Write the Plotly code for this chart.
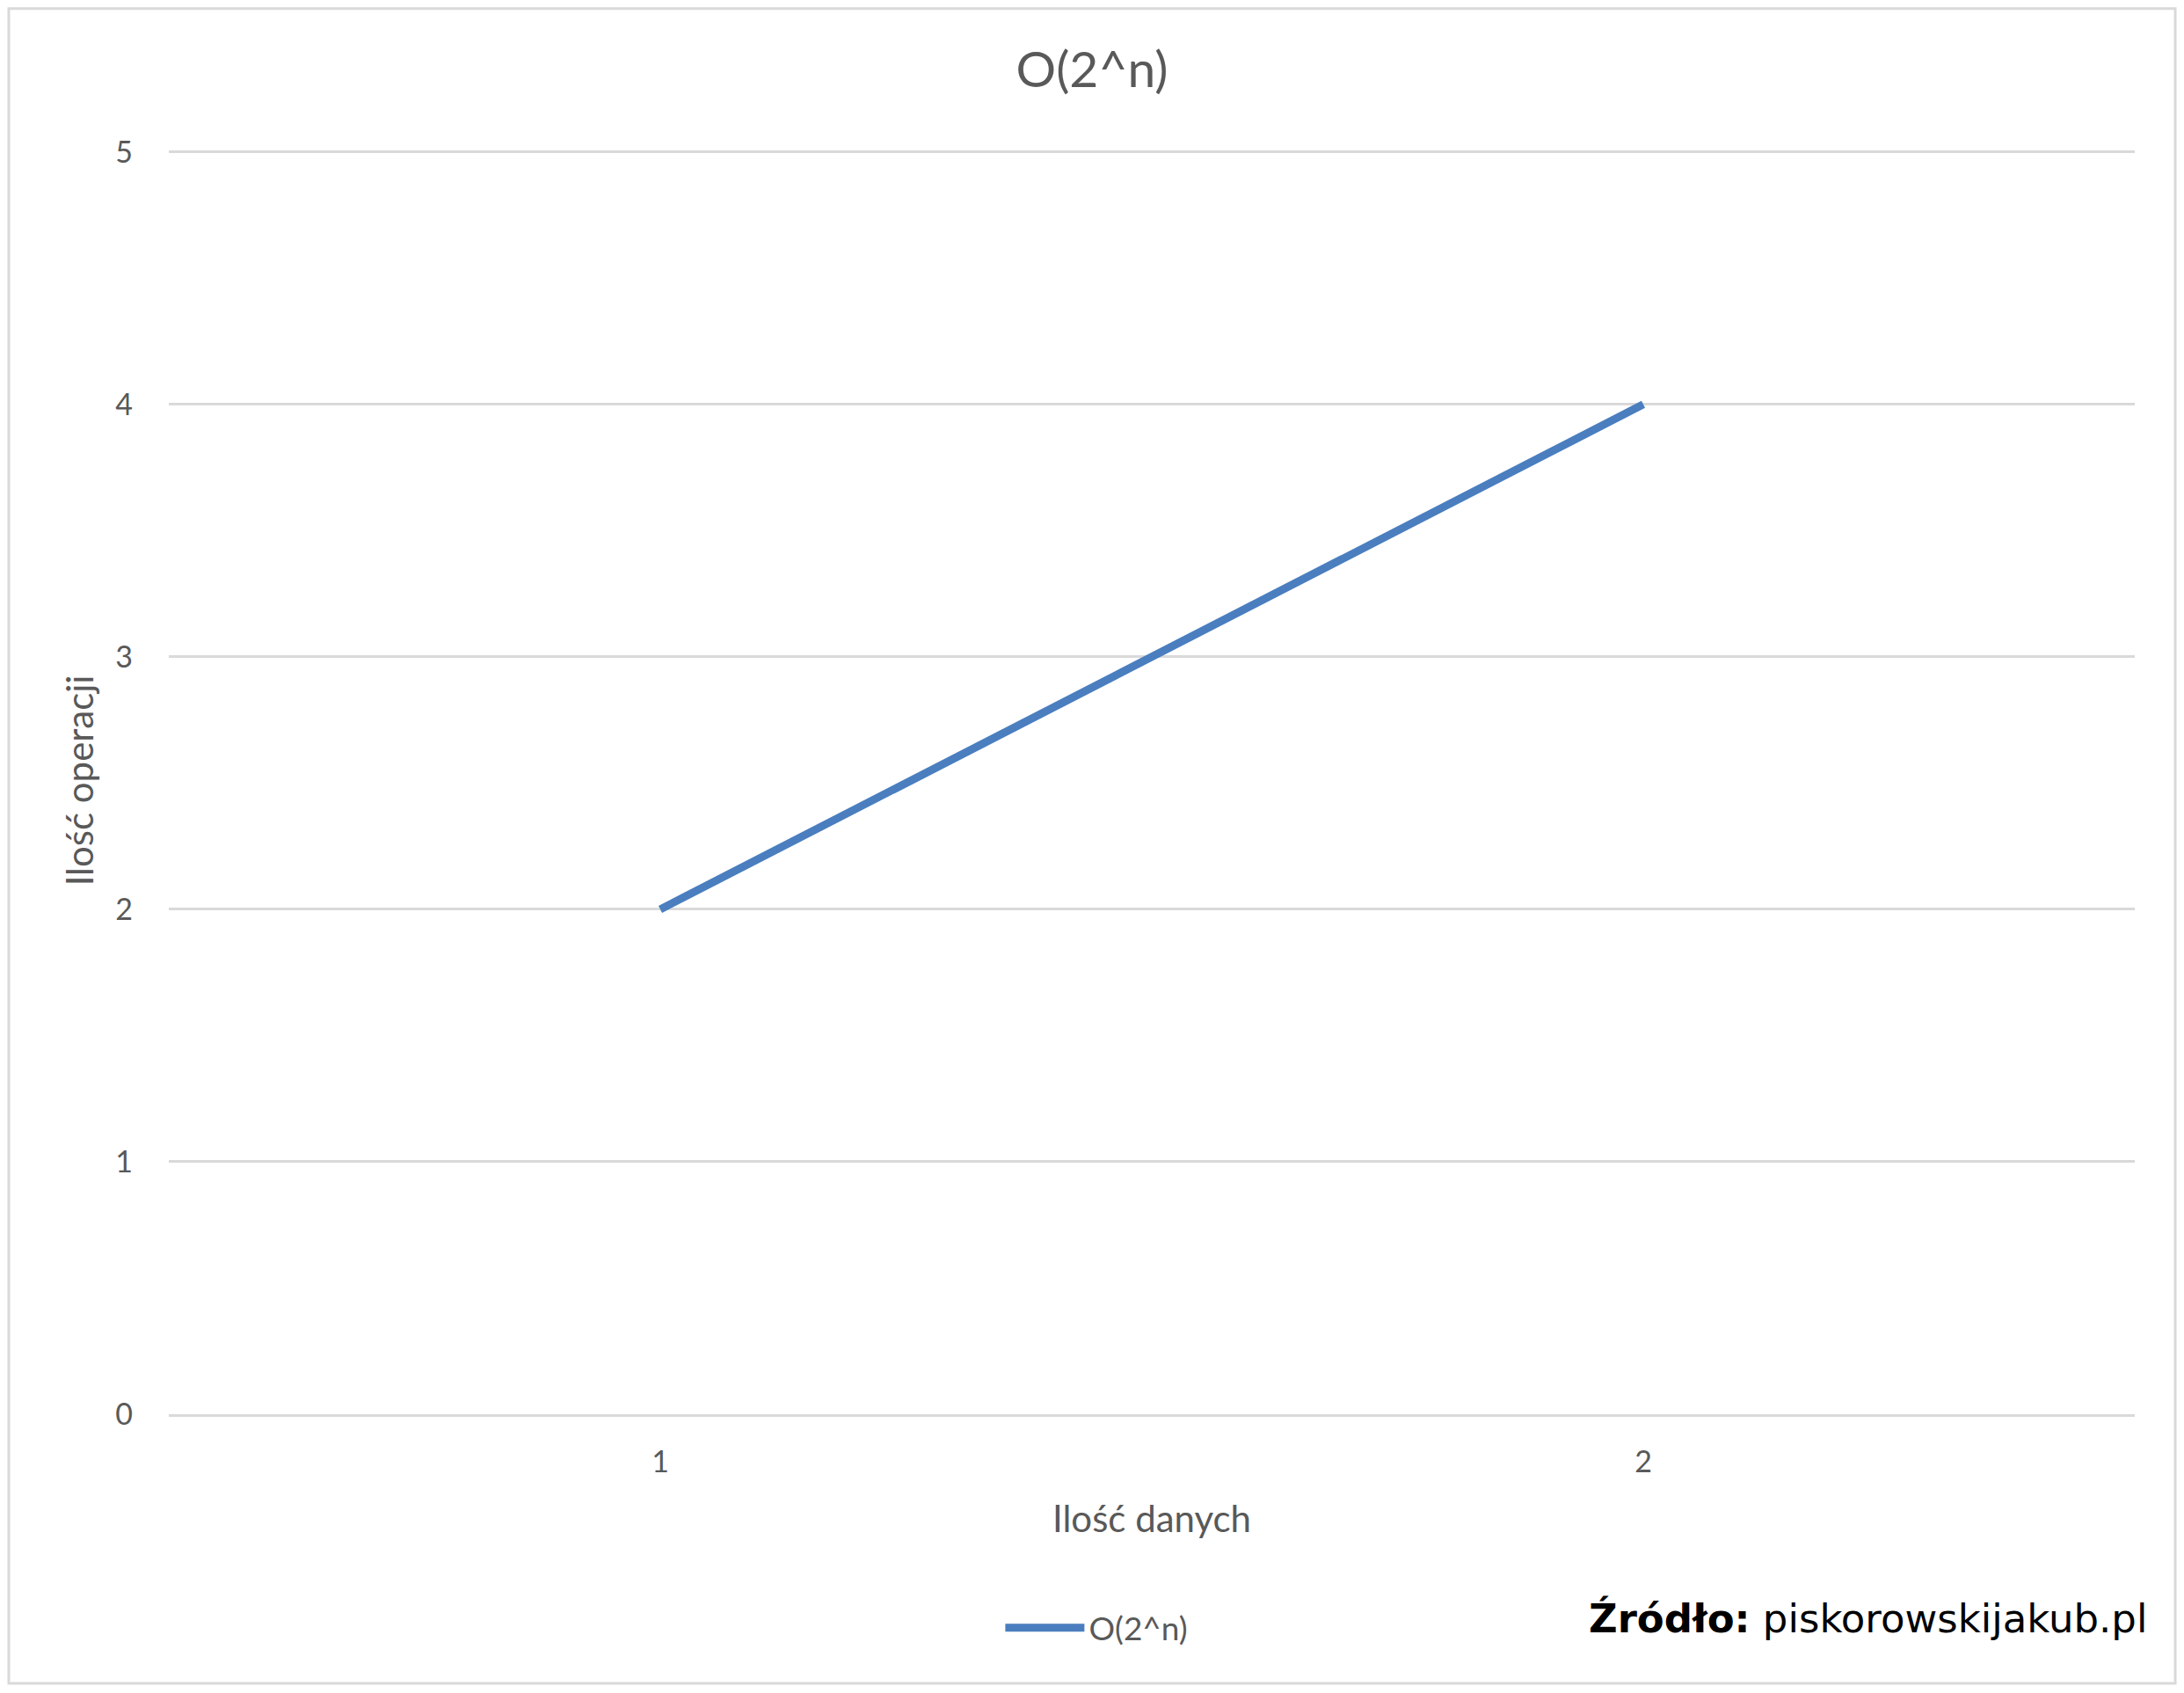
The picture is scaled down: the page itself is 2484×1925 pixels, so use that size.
import plotly.graph_objects as go

# data
ilosc_danych = ["1", "2"]
ilosc_operacji = [2, 4]
series_name = "O(2^n)"

text_grey = "#595959"
grid_grey = "#D9D9D9"
line_blue = "#4A7EBF"
font_family = "Lato, 'Open Sans', sans-serif"

fig = go.Figure()

fig.add_trace(go.Scatter(
    x=ilosc_danych,
    y=ilosc_operacji,
    mode="lines",
    name=series_name,
    line=dict(color=line_blue, width=9),
))

# light grey frame around the whole chart (paper coords relative to plot area)
fig.add_shape(
    type="rect", xref="paper", yref="paper",
    x0=-0.0814, x1=1.0206, y0=-0.2124, y1=1.1092,
    line=dict(color=grid_grey, width=3),
    fillcolor="rgba(0,0,0,0)",
    layer="below",
)

# source note bottom right
fig.add_annotation(
    text="<b>Źródło:</b> piskorowskijakub.pl",
    xref="paper", yref="paper",
    x=1.0072, y=-0.161,
    xanchor="right", yanchor="middle",
    showarrow=False,
    font=dict(family="DejaVu Sans", size=45, color="black"),
)

# page body has an 8px margin, so the figure is a bit smaller than the window
fig.update_layout(
    width=2468,
    height=1909,
    margin=dict(l=184, r=48, t=159, b=309),
    plot_bgcolor="white",
    paper_bgcolor="white",
    font=dict(family=font_family, color=text_grey, size=34),
    title=dict(
        text="O(2^n)",
        x=0.5, xanchor="center",
        y=1 - 71 / 1909, yanchor="middle", yref="container",
        font=dict(size=57, color=text_grey, family=font_family),
    ),
    showlegend=True,
    legend=dict(
        orientation="h",
        x=0.472, xanchor="center",
        y=-0.1687, yanchor="middle",
        itemwidth=90,
        font=dict(size=37, color=text_grey),
        bgcolor="rgba(0,0,0,0)",
    ),
)

fig.update_xaxes(
    type="category",
    range=[-0.5, 1.5],
    showgrid=False,
    showline=True, linecolor=grid_grey, linewidth=3,
    ticks="",
    ticklabelstandoff=22,
    title=dict(text="Ilość danych", standoff=33, font=dict(size=42, color=text_grey)),
    zeroline=False,
)

fig.update_yaxes(
    range=[0, 5.02],
    tickvals=[0, 1, 2, 3, 4, 5],
    showgrid=True, gridcolor=grid_grey, gridwidth=3,
    ticks="",
    ticklabelstandoff=40,
    zeroline=False,
    title=dict(text="Ilość operacji", standoff=11, font=dict(size=42, color=text_grey)),
)

fig.write_html("out.html")
